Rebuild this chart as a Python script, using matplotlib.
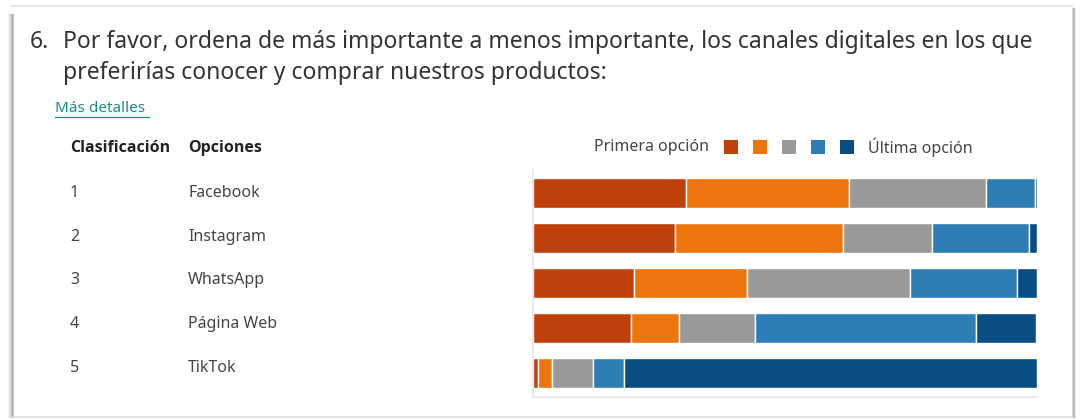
import matplotlib.pyplot as plt
from matplotlib.patches import Rectangle
from matplotlib.lines import Line2D

# data (share of answers, %)
options = ["Facebook", "Instagram", "WhatsApp", "Página Web", "TikTok"]
ranks = ["1", "2", "3", "4", "5"]
rank1 = [30.4, 28.1, 20.1, 19.5, 1.0]
rank2 = [32.3, 33.5, 22.3, 9.4, 2.7]
rank3 = [27.1, 17.5, 32.5, 15.2, 8.3]
rank4 = [9.8, 19.3, 21.1, 43.8, 6.0]
rank5 = [0.4, 1.6, 4.0, 11.9, 82.0]
series = [rank1, rank2, rank3, rank4, rank5]
colors = ["#be400a", "#ed750e", "#999999", "#2e7db5", "#0a4d82"]

W, H = 1081, 419
fig = plt.figure(figsize=(W / 100, H / 100), dpi=100)
fig.patch.set_facecolor("white")
plt.rcParams["font.family"] = ["Noto Sans", "DejaVu Sans"]


def fx(x):
    return x / W


def fy(y):
    return 1 - y / H


def hline(y, x0, x1, c, lw=1.0, a=1.0):
    fig.lines.append(Line2D([fx(x0), fx(x1)], [fy(y), fy(y)], transform=fig.transFigure,
                            color=c, lw=lw, alpha=a))


def vline(x, y0, y1, c, lw=1.0, a=1.0):
    fig.lines.append(Line2D([fx(x), fx(x)], [fy(y0), fy(y1)], transform=fig.transFigure,
                            color=c, lw=lw, alpha=a))


# card edges with a soft shadow
hline(6, 12, 1072, "#e6e6e6", lw=1.5)
for x, a in zip([8, 9, 10, 11, 12, 13], [0.08, 0.15, 0.25, 0.4, 0.55, 0.35]):
    vline(x, 14, 417, "#707070", lw=0.8, a=a)
for x, a in zip([1072, 1073, 1074, 1075], [0.25, 0.5, 0.35, 0.15]):
    vline(x, 8, 417, "#707070", lw=0.8, a=a)
hline(417, 12, 1072, "#dddddd", lw=1.2)

title_c = "#333333"
fig.text(fx(30), fy(42), "6.", fontsize=16.5, color=title_c, va="center")
fig.text(fx(63), fy(42), "Por favor, ordena de más importante a menos importante, los canales digitales en los que",
         fontsize=16.5, color=title_c, va="center")
fig.text(fx(63), fy(73), "preferirías conocer y comprar nuestros productos:",
         fontsize=16.5, color=title_c, va="center")
fig.text(fx(55), fy(108), "Más detalles", fontsize=11, color="#1f8a8a", va="center")
hline(117, 55, 149, "#1f8a8a", lw=0.9)

txt_c = "#444444"
bold_fam = ["Open Sans", "DejaVu Sans"]
fig.text(fx(70), fy(148), "Clasificación", fontsize=11.5, fontweight="bold", family=bold_fam,
         color="#222222", va="center")
fig.text(fx(188), fy(148), "Opciones", fontsize=11.5, fontweight="bold", family=bold_fam,
         color="#222222", va="center")
for i, (r, name) in enumerate(zip(ranks, options)):
    yy = 192.7 + 43.9 * i
    fig.text(fx(70), fy(yy), r, fontsize=11.5, color=txt_c, va="center")
    fig.text(fx(188), fy(yy), name, fontsize=11.5, color=txt_c, va="center")

# legend
fig.text(fx(709), fy(147), "Primera opción", fontsize=11.5, color=txt_c, va="center", ha="right")
for i, c in enumerate(colors):
    x0 = 724 + 29 * i
    fig.patches.append(Rectangle((fx(x0), fy(154)), fx(14), 14 / H,
                                 transform=fig.transFigure, color=c, lw=0))
fig.text(fx(868), fy(147), "Última opción", fontsize=11.5, color=txt_c, va="center")

# stacked bars
ax = fig.add_axes([fx(533), fy(397), fx(1037 - 533), (397 - 170) / H])
left = [0] * len(options)
for vals, c in zip(series, colors):
    ax.barh(range(len(options)), vals, left=left, height=0.667, color=c,
            edgecolor="white", linewidth=1)
    left = [l + v for l, v in zip(left, vals)]
ax.set_xlim(0, max(left))
ax.set_ylim(4.53, -0.51)
ax.set_xticks([])
ax.set_yticks([])
for s in ["top", "right"]:
    ax.spines[s].set_visible(False)
for s in ["left", "bottom"]:
    ax.spines[s].set_color("#e6e6e6")
    ax.spines[s].set_linewidth(1.2)
ax.set_facecolor("none")

fig.savefig("out.png", dpi=100, facecolor="white")
